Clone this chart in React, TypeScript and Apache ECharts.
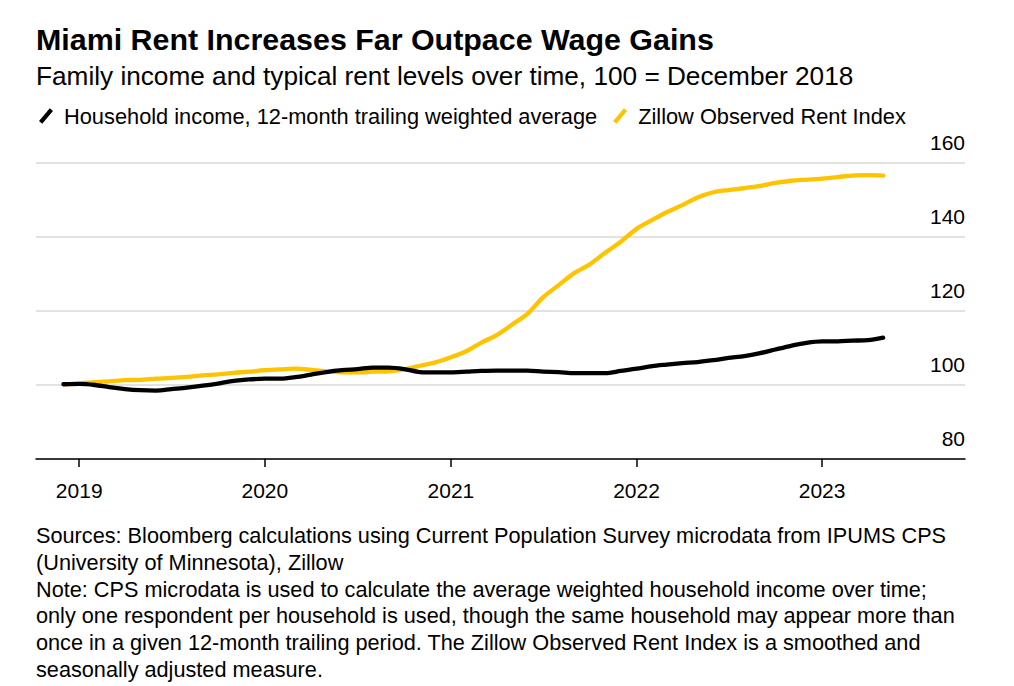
import React, { useEffect, useRef } from "react";
import * as echarts from "echarts";

const TITLE = "Miami Rent Increases Far Outpace Wage Gains";
const SUBTITLE = "Family income and typical rent levels over time, 100 = December 2018";
const SERIES_NAMES = ["Household income, 12-month trailing weighted average", "Zillow Observed Rent Index"];
const FOOTER_LINES = [
  "Sources: Bloomberg calculations using Current Population Survey microdata from IPUMS CPS",
  "(University of Minnesota), Zillow",
  "Note: CPS microdata is used to calculate the average weighted household income over time;",
  "only one respondent per household is used, though the same household may appear more than",
  "once in a given 12-month trailing period. The Zillow Observed Rent Index is a smoothed and",
  "seasonally adjusted measure.",
];

// Monthly observations, Dec 2018 .. May 2023
const START_YEAR = 2018;
const START_MONTH = 11; // December (0-based)

const INCOME = [
  100.2,
  100.3, 100.0, 99.4, 98.9, 98.6, 98.5, 98.9, 99.3, 99.8, 100.4, 101.1, 101.5,
  101.7, 101.7, 102.1, 102.8, 103.5, 104.0, 104.3, 104.7, 104.7, 104.3, 103.5, 103.4,
  103.4, 103.6, 103.8, 103.9, 103.9, 103.9, 103.6, 103.5, 103.2, 103.2, 103.2, 103.8,
  104.4, 105.1, 105.5, 105.9, 106.2, 106.7, 107.3, 107.8, 108.6, 109.6, 110.6, 111.4,
  111.8, 111.8, 112.0, 112.1, 112.8,
];

const RENT = [
  100.2,
  100.4, 100.8, 101.0, 101.3, 101.4, 101.7, 101.9, 102.2, 102.6, 102.9, 103.3, 103.6,
  104.0, 104.2, 104.4, 104.1, 103.7, 103.4, 103.4, 103.6, 103.7, 104.2, 105.2, 106.1,
  107.5, 109.2, 111.4, 113.5, 116.3, 119.3, 123.7, 127.0, 130.3, 132.6, 135.8, 138.7,
  142.2, 144.6, 146.7, 148.6, 150.7, 152.1, 152.7, 153.2, 153.8, 154.6, 155.2, 155.5,
  155.8, 156.2, 156.6, 156.7, 156.6,
];

const YEAR_TICKS = [2019, 2020, 2021, 2022, 2023];
const Y_MIN = 80;
const Y_MAX = 160;
const Y_STEP = 20;

const COLORS = ["#000000", "#FFC300"];

const monthTime = (i: number) => new Date(START_YEAR, START_MONTH + i, 1).getTime();

export default function App() {
  const ref = useRef<HTMLDivElement>(null);

  useEffect(() => {
    if (!ref.current) return;
    const chart = echarts.init(ref.current, null, { renderer: "svg" });
    const font = "'Liberation Sans', Arial, sans-serif";
    const icon = "path://M0,12 L10,0 L13,2.5 L3,14.5 Z";

    const incomeData = INCOME.map((v, i) => [monthTime(i), v]);
    const rentData = RENT.map((v, i) => [monthTime(i), v]);
    const tickValues = YEAR_TICKS.map((y) => new Date(y, 0, 1).getTime());

    chart.setOption({
      animation: false,
      backgroundColor: "#ffffff",
      textStyle: { fontFamily: font },
      grid: { left: 36, right: 49, top: 163, bottom: 227, containLabel: false },
      legend: {
        left: 34,
        top: 100,
        itemWidth: 14,
        itemHeight: 16,
        itemGap: 16,
        icon,
        textStyle: { fontSize: 21.8, color: "#000", fontFamily: font, padding: [0, 0, 0, 6] },
        data: SERIES_NAMES,
      },
      xAxis: {
        type: "value",
        scale: true,
        min: new Date(2018, 9, 8).getTime(),
        max: new Date(2023, 9, 9).getTime(),
        axisLine: { show: true, onZero: false, lineStyle: { color: "#000", width: 1.5 } },
        axisTick: { show: true, length: 8, lineStyle: { color: "#000", width: 1.5 }, customValues: tickValues },
        axisLabel: {
          show: true,
          customValues: tickValues,
          formatter: (v: number) => String(new Date(v).getFullYear()),
          fontSize: 21,
          color: "#000",
          margin: 21,
          fontFamily: font,
        },
        splitLine: { show: false },
      },
      yAxis: {
        type: "value",
        position: "right",
        min: Y_MIN,
        max: Y_MAX,
        interval: Y_STEP,
        axisLine: { show: false },
        axisTick: { show: false },
        axisLabel: {
          inside: true,
          fontSize: 21,
          color: "#000",
          verticalAlign: "bottom",
          padding: [0, 0, 10, 0],
          margin: 0,
          fontFamily: font,
          showMinLabel: true,
        },
        splitLine: { show: true, lineStyle: { color: "#d9d9d9", width: 1.5 } },
      },
      series: [
        {
          name: SERIES_NAMES[0],
          type: "line",
          data: incomeData,
          showSymbol: false,
          smooth: 0.3,
          z: 3,
          lineStyle: { color: COLORS[0], width: 4.3, cap: "round" },
          itemStyle: { color: COLORS[0] },
        },
        {
          name: SERIES_NAMES[1],
          type: "line",
          data: rentData,
          showSymbol: false,
          smooth: 0.3,
          z: 2,
          lineStyle: { color: COLORS[1], width: 4.3, cap: "round" },
          itemStyle: { color: COLORS[1] },
        },
      ],
      graphic: [
        {
          type: "text",
          left: 36,
          top: 24,
          style: { text: TITLE, font: `bold 30.4px ${font}`, fill: "#000" },
        },
        {
          type: "text",
          left: 36,
          top: 63,
          style: { text: SUBTITLE, font: `26.2px ${font}`, fill: "#000" },
        },
        {
          type: "text",
          left: 36,
          top: 522,
          style: {
            text: FOOTER_LINES.join("\n"),
            font: `21.7px ${font}`,
            lineHeight: 26.8,
            fill: "#000",
          },
        },
      ],
    });

    return () => chart.dispose();
  }, []);

  return (
    <div
      ref={ref}
      style={{ position: "fixed", left: 0, top: 0, width: 1014, height: 686, background: "#fff" }}
    />
  );
}
